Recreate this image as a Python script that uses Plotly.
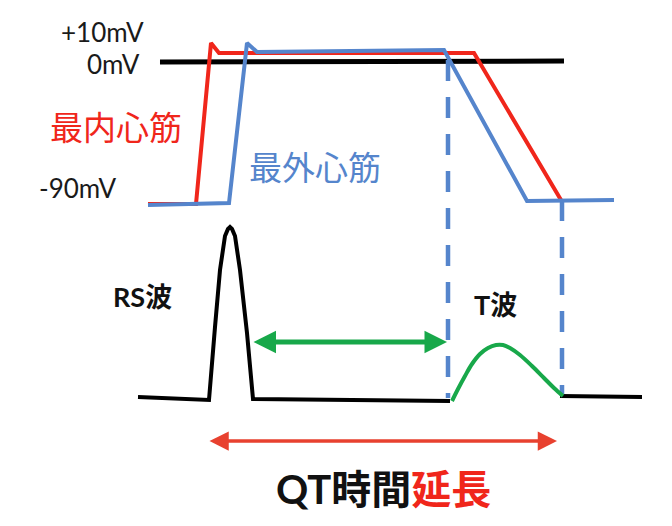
import plotly.graph_objects as go

# positions in picture units (x to the right, y downwards), 672 x 526 canvas
zero_x = [160, 564]
zero_y = [62, 61]

endo_x = [148, 196, 211, 219, 474, 561]
endo_y = [204, 204, 43, 53, 53, 200]

epi_x = [148, 229, 247, 257, 444, 527, 614]
epi_y = [205, 203, 43, 52, 50, 201, 200]

dash1_x = [448, 448]
dash1_y = [60, 398]
dash2_x = [562, 562]
dash2_y = [200, 396]

ecg_x = [138, 209, 215, 220, 225, 228, 230, 232, 235, 240, 247, 253, 450]
ecg_y = [397, 400, 327, 270, 236, 229, 227, 229, 236, 270, 333, 399, 401]
ecg2_x = [560, 642]
ecg2_y = [396, 397]

t_x = [452, 458, 465, 472, 480, 488, 496, 503, 510, 520, 532, 544, 554, 563]
t_y = [401, 389, 376, 364, 354, 348, 345, 345, 348, 355, 366, 378, 388, 396]

green_arrow_x = [252, 447]
green_arrow_y = [342, 342]
red_arrow_x = [208, 557]
red_arrow_y = [441, 441]

RED = '#f0261b'
BLUE = '#5585cc'
GREEN = '#18a84a'
FONT = "Lato, 'Noto Sans CJK JP', sans-serif"

fig = go.Figure()

def line(x, y, color, width, dash=None, shape='linear'):
    fig.add_trace(go.Scatter(x=x, y=y, mode='lines', hoverinfo='skip', showlegend=False,
                             line=dict(color=color, width=width, dash=dash, shape=shape)))

line(zero_x, zero_y, 'black', 5)
line(dash1_x, dash1_y, BLUE, 4.5, dash='21px,16px')
line(dash2_x, dash2_y, BLUE, 4.5, dash='21px,16px')
line(endo_x, endo_y, RED, 4)
line(epi_x, epi_y, BLUE, 4)
line(ecg_x, ecg_y, 'black', 4)
line(ecg2_x, ecg2_y, 'black', 4)
line(t_x, t_y, GREEN, 4, shape='spline')

# double headed arrows
for ax_, ay_, col, w, sz in [(green_arrow_x, green_arrow_y, GREEN, 5, 0.9),
                             (red_arrow_x, red_arrow_y, '#e8412f', 3.5, 1.1)]:
    fig.add_annotation(x=ax_[1], y=ay_[1], ax=ax_[0], ay=ay_[0], xref='x', yref='y',
                       axref='x', ayref='y', text='', showarrow=True, arrowhead=2,
                       arrowside='end+start', arrowcolor=col, arrowwidth=w, arrowsize=sz,
                       standoff=0, startstandoff=0)

labels = [
    ('+10mV', 146, 32, 26, '#1a1a1a', 'right', False),
    ('0mV', 142, 64, 26, '#1a1a1a', 'right', False),
    ('-90mV', 119, 188, 26, '#1a1a1a', 'right', False),
    ('最内心筋', 48, 127, 33, RED, 'left', False),
    ('最外心筋', 247, 167, 33, BLUE, 'left', False),
    ('RS波', 111, 296, 27, '#111111', 'left', True),
    ('T波', 472, 304, 27, '#111111', 'left', True),
    ("QT時間<span style='color:#f0261b'>延長</span>", 383, 489, 40, '#111111', 'center', True),
]
for txt, x, y, size, col, anchor, bold in labels:
    fig.add_annotation(x=x, y=y, xref='x', yref='y', text=f'<b>{txt}</b>' if bold else txt,
                       showarrow=False, xanchor=anchor, yanchor='middle',
                       font=dict(family=FONT, size=size, color=col))

# the page body has an 8px margin, so the figure sits 8px in from the window edge
fig.update_layout(
    width=656, height=510,
    margin=dict(l=0, r=0, t=0, b=0),
    plot_bgcolor='white', paper_bgcolor='white',
    xaxis=dict(range=[8, 664], visible=False, fixedrange=True),
    yaxis=dict(range=[518, 8], visible=False, fixedrange=True),
)

fig.write_html("out.html")
